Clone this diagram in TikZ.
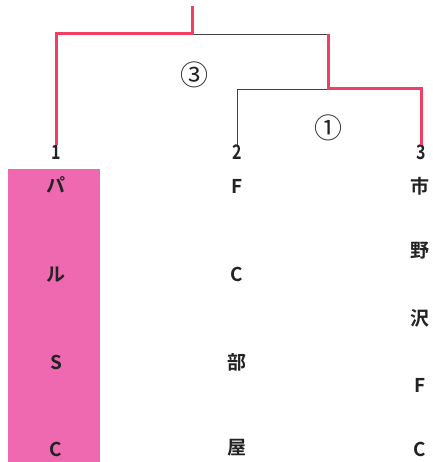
\documentclass[tikz,border=0pt]{standalone}
\usepackage{fontspec}
\setmainfont{Noto Sans CJK JP}[BoldFont={Noto Sans CJK JP Bold}]
\definecolor{winred}{RGB}{240,62,100}
\definecolor{boxpink}{RGB}{238,105,175}
\definecolor{txt}{RGB}{35,35,35}
\newcommand{\narrow}[1]{\scalebox{0.8}[1]{#1}}
\begin{document}
\begin{tikzpicture}[x=1pt,y=-1pt,
  win/.style={draw=winred,line width=3pt},
  lose/.style={draw=black!75,line width=0.9pt},
  seed/.style={font=\fontsize{20}{20}\selectfont\bfseries,text=txt,inner sep=0pt},
  nm/.style={font=\fontsize{19}{19}\selectfont\bfseries,text=txt,inner sep=0pt},
  circ/.style={font=\fontsize{28}{28}\selectfont,text=txt,inner sep=0pt}]
\useasboundingbox (0,0) rectangle (432,462);
\fill[boxpink] (8,169) rectangle (100,462);
% coordinates
\coordinate (top) at (192,8);
\coordinate (j3) at (192,34);
\coordinate (l3) at (56,34);
\coordinate (r3) at (328,34);
\coordinate (j1) at (328,89);
\coordinate (l1) at (237,89);
\coordinate (r1) at (421,89);
% seeds
\node[seed,anchor=north] (s1) at (56,145) {\narrow{1}};
\node[seed,anchor=north] (s2) at (237,145) {\narrow{2}};
\node[seed,anchor=north] (s3) at (421,145) {\narrow{3}};
% lines
\draw[lose] (j3) -- (r3);
\draw[lose] (j1) -- (l1) -- (s2.north);
\draw[win,line cap=rect] (top) -- (j3);
\draw[win] (j3) -- (l3) -- (s1.north);
\draw[win] (r3) -- (j1) -- (r1) -- (s3.north);
% round labels
\node[circ] (c3) at (194,75) {③};
\node[circ] (c1) at (328,128) {①};
% names
\node[nm] (a1) at (56,185) {パ};
\node[nm] (a2) at (56,275) {ル};
\node[nm] (a3) at (56,362) {S};
\node[nm] (a4) at (56,449) {C};
\node[nm] (b1) at (237,186) {F};
\node[nm] (b2) at (237,274) {C};
\node[nm] (b3) at (237,362) {部};
\node[nm] (b4) at (237,448) {屋};
\node[nm] (c1n) at (420,186) {市};
\node[nm] (c2n) at (420,251) {野};
\node[nm] (c3n) at (420,318) {沢};
\node[nm] (c4n) at (420,385) {F};
\node[nm] (c5n) at (420,449) {C};
\end{tikzpicture}
\end{document}
